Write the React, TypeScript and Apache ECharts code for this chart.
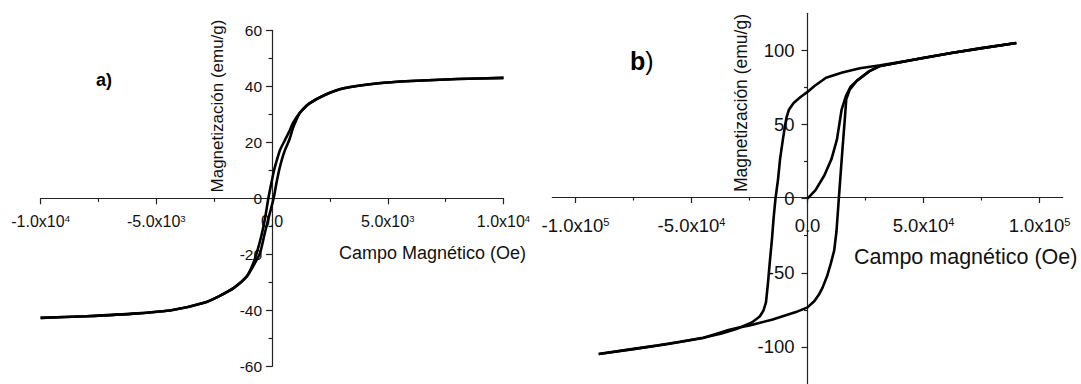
import React, { useEffect, useRef } from 'react';
import * as echarts from 'echarts';

const FONT = '"Liberation Sans", Arial, Helvetica, sans-serif';
const AXIS_COLOR = '#222';
const TEXT_COLOR = '#111';

// ---------- Panel a) ----------
const aXTicks = [-10000, -5000, 0, 5000, 10000];
const aXMant = ['-1.0x10', '-5.0x10', '0.0', '5.0x10', '1.0x10'];
const aXExp = ['4', '3', '', '3', '4'];

// descending branch (field from +1e4 to -1e4)
const aDescField = [10000, 8000, 6000, 4600, 3100, 2300, 1600, 1200, 900, 773, 557, 341, 220, 90, -40, -160, -300, -450, -665, -850, -1100, -1650, -2300, -2900, -4300, -5800, -8000, -10000];
const aDescMag = [43, 42.6, 41.9, 41.1, 39.3, 37, 33.8, 30.5, 26.8, 24.4, 20.8, 17.2, 14, 10.1, 5, 0, -7, -13, -19.6, -24, -28, -32, -35, -37.2, -39.9, -41.1, -42.1, -42.7];
// ascending branch (field from -1e4 to +1e4)
const aAscField = [-10000, -8000, -5800, -4300, -2900, -2300, -1650, -1100, -800, -520, -330, -150, 70, 180, 307, 430, 557, 743, 900, 1100, 1200, 1600, 2300, 3100, 4600, 6000, 8000, 10000];
const aAscMag = [-42.7, -42.1, -41.1, -39.9, -37.2, -35, -32, -28, -24, -19.6, -13, -7, 0, 5, 10.1, 14, 17.2, 20.8, 25, 29, 30.5, 33.8, 37, 39.3, 41.1, 41.9, 42.6, 43];

// ---------- Panel b) ----------
const bXTicks = [-100000, -50000, 0, 50000, 100000];
const bXMinor = [-75000, -25000, 25000, 75000];
const bXMant = ['-1.0x10', '-5.0x10', '0.0', '5.0x10', '1.0x10'];
const bXExp = ['5', '4', '', '4', '5'];
const bYTicks = [-100, -50, 0, 50, 100];
const bYMinor = [-75, -25, 25, 75];

// initial (virgin) magnetization curve
const bVirginField = [0, 3450, 7300, 10400, 12700, 14700, 16600, 18600, 21300, 26700, 31400, 47000, 62000, 90000];
const bVirginMag = [0, 5.8, 15.8, 27, 40, 60, 69.3, 75.5, 79.6, 86, 89.5, 94, 98.2, 105];
// descending branch
const bDescField = [90000, 75000, 62000, 47000, 31400, 22600, 15000, 8000, 3000, 0, -3000, -6000, -8000, -9000, -9700, -10600, -11800, -12700, -13800, -14600, -15300, -16200, -17100, -17900, -19000, -20600, -24000, -30000, -37000, -45000, -55000, -65000, -75000, -90000];
const bDescMag = [105, 101.5, 98.2, 94, 90, 88, 85, 81.5, 76, 72, 68.5, 64.5, 60, 55, 49, 40, 27, 13, 0, -13, -27, -42, -58, -70, -75.5, -79.5, -83.5, -87.5, -91, -93.8, -96.5, -99, -101.3, -104.8];
// ascending branch
const bAscField = [-90000, -75000, -60000, -45000, -35000, -30000, -25000, -20000, -15000, -10000, -5000, 0, 3000, 5000, 6500, 8500, 10000, 11500, 12500, 13500, 14300, 15100, 16000, 16700, 18200, 21300, 26700, 31400, 40000, 50000, 62000, 75000, 90000];
const bAscMag = [-104.8, -101.5, -98, -94, -89, -87, -85.5, -83.5, -81.5, -79, -76.5, -73.3, -69, -64.5, -60, -52, -44, -35, -22, 0, 17, 34, 52, 67, 73.5, 79.5, 86, 89.5, 92, 95, 98.2, 101.5, 105];

const zip = (xs: number[], ys: number[]) => xs.map((x, i) => [x, ys[i]]);

const richFormatter = (ticks: number[], mant: string[], exp: string[]) => (v: number) => {
  const i = ticks.indexOf(v);
  if (i < 0) return '';
  return exp[i] ? `{m|${mant[i]}}{s|${exp[i]}}` : `{m|${mant[i]}}`;
};

const lineSeries = (xi: number, yi: number, data: number[][], smooth: number | boolean) => ({
  type: 'line',
  xAxisIndex: xi,
  yAxisIndex: yi,
  data,
  showSymbol: false,
  symbol: 'none',
  smooth,
  lineStyle: { color: '#000', width: 2.6 },
  z: 5,
});

// grid geometry
const A_GRID = { left: 40.6, top: 30.3, width: 462.9, height: 336 };
const B_GRID = { left: 552.3, top: 13.3, width: 510.4, height: 374 };

export default function App() {
  const ref = useRef<HTMLDivElement>(null);
  useEffect(() => {
    const chart = echarts.init(ref.current!, null, { renderer: 'svg' });
    const axisLine = { show: true, onZero: false, lineStyle: { color: AXIS_COLOR, width: 1.2 } };
    const tickStyle = { color: AXIS_COLOR, width: 1.2 };
    const option: any = {
      animation: false,
      backgroundColor: '#fff',
      grid: [A_GRID, B_GRID, B_GRID],
      xAxis: [
        {
          gridIndex: 0, type: 'value', position: 'bottom', offset: -A_GRID.height / 2,
          min: -10000, max: 10000, interval: 5000,
          axisLine,
          axisTick: { show: true, length: 6, lineStyle: tickStyle },
          minorTick: { show: true, splitNumber: 2, length: 3.5, lineStyle: tickStyle },
          splitLine: { show: false },
          axisLabel: {
            margin: 15.5, color: TEXT_COLOR, fontFamily: FONT, fontSize: 16,
            formatter: richFormatter(aXTicks, aXMant, aXExp),
            rich: {
              m: { fontSize: 16, fontFamily: FONT, color: TEXT_COLOR },
              s: { fontSize: 9.5, fontFamily: FONT, color: TEXT_COLOR, verticalAlign: 'top' },
            },
          },
        },
        {
          gridIndex: 1, type: 'value', position: 'bottom', offset: -B_GRID.height / 2,
          min: -110000, max: 110000,
          axisLine,
          axisTick: { show: true, length: 6, customValues: bXTicks, lineStyle: tickStyle },
          splitLine: { show: false },
          axisLabel: {
            margin: 19, color: TEXT_COLOR, fontFamily: FONT, fontSize: 18.5,
            customValues: bXTicks,
            formatter: richFormatter(bXTicks, bXMant, bXExp),
            rich: {
              m: { fontSize: 18.5, fontFamily: FONT, color: TEXT_COLOR },
              s: { fontSize: 11, fontFamily: FONT, color: TEXT_COLOR, verticalAlign: 'top' },
            },
          },
        },
        {
          gridIndex: 2, type: 'value', position: 'bottom', offset: -B_GRID.height / 2,
          min: -110000, max: 110000,
          axisLine: { show: false, onZero: false },
          axisTick: { show: true, length: 3.5, customValues: bXMinor, lineStyle: tickStyle },
          axisLabel: { show: false },
          splitLine: { show: false },
        },
      ],
      yAxis: [
        {
          gridIndex: 0, type: 'value', position: 'left', offset: -A_GRID.width / 2,
          min: -60, max: 60, interval: 20,
          axisLine,
          axisTick: { show: true, length: 6, lineStyle: tickStyle },
          minorTick: { show: true, splitNumber: 2, length: 3.5, lineStyle: tickStyle },
          splitLine: { show: false },
          axisLabel: { margin: 10, color: TEXT_COLOR, fontFamily: FONT, fontSize: 15.5 },
        },
        {
          gridIndex: 1, type: 'value', position: 'left', offset: -B_GRID.width / 2,
          min: -125, max: 125,
          axisLine,
          axisTick: { show: true, length: 6, customValues: bYTicks, lineStyle: tickStyle },
          splitLine: { show: false },
          axisLabel: { margin: 13, color: TEXT_COLOR, fontFamily: FONT, fontSize: 18.5, customValues: bYTicks },
        },
        {
          gridIndex: 2, type: 'value', position: 'left', offset: -B_GRID.width / 2,
          min: -125, max: 125,
          axisLine: { show: false, onZero: false },
          axisTick: { show: true, length: 3.5, customValues: bYMinor, lineStyle: tickStyle },
          axisLabel: { show: false },
          splitLine: { show: false },
        },
      ],
      series: [
        lineSeries(0, 0, zip(aDescField, aDescMag), 0.2),
        lineSeries(0, 0, zip(aAscField, aAscMag), 0.2),
        lineSeries(1, 1, zip(bVirginField, bVirginMag), false),
        lineSeries(1, 1, zip(bDescField, bDescMag), false),
        lineSeries(1, 1, zip(bAscField, bAscMag), false),
      ],
      graphic: [
        {
          type: 'text', x: 96, y: 80,
          style: { text: 'a)', fontFamily: FONT, fontSize: 18, fontWeight: 'bold', fill: '#000', align: 'left', verticalAlign: 'middle' },
        },
        {
          type: 'text', x: 630, y: 61,
          style: {
            text: '{b|b}{p|)}', fill: '#000', align: 'left', verticalAlign: 'middle',
            rich: {
              b: { fontFamily: FONT, fontSize: 25, fontWeight: 'bold', fill: '#000' },
              p: { fontFamily: FONT, fontSize: 25, fontWeight: 'normal', fill: '#000' },
            },
          },
        },
        {
          type: 'text', x: 339, y: 253,
          style: { text: 'Campo Magnético (Oe)', fontFamily: FONT, fontSize: 18, fill: TEXT_COLOR, align: 'left', verticalAlign: 'middle' },
        },
        {
          type: 'text', x: 854, y: 257,
          style: { text: 'Campo magnético (Oe)', fontFamily: FONT, fontSize: 21.5, fill: TEXT_COLOR, align: 'left', verticalAlign: 'middle' },
        },
        {
          type: 'text', x: 217.5, y: 106, rotation: Math.PI / 2,
          style: { text: 'Magnetización (emu/g)', fontFamily: FONT, fontSize: 17, fill: TEXT_COLOR, align: 'center', verticalAlign: 'middle' },
        },
        {
          type: 'text', x: 741, y: 103, rotation: Math.PI / 2,
          style: { text: 'Magnetización (emu/g)', fontFamily: FONT, fontSize: 17.5, fill: TEXT_COLOR, align: 'center', verticalAlign: 'middle' },
        },
      ],
    };
    chart.setOption(option);
    return () => chart.dispose();
  }, []);
  return (
    <div
      ref={ref}
      style={{ position: 'fixed', left: 0, top: 0, width: 1081, height: 384, background: '#fff' }}
    />
  );
}
